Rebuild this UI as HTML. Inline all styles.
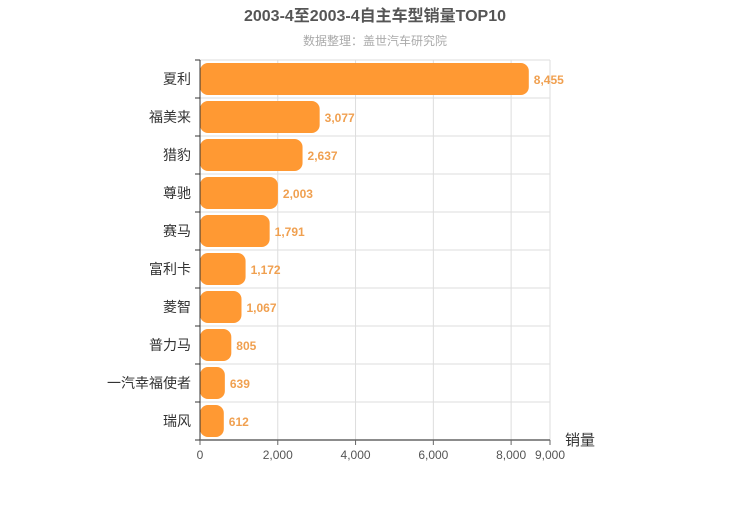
<!DOCTYPE html>
<html><head><meta charset="utf-8"><style>
body{margin:0;background:#fff;font-family:"Liberation Sans","Noto Sans CJK SC",sans-serif}
</style></head><body>
<svg id="c" width="750" height="500" xmlns="http://www.w3.org/2000/svg" font-family="Liberation Sans, Noto Sans CJK SC, sans-serif">
<text x="375" y="21" text-anchor="middle" font-size="16" font-weight="bold" fill="#555">2003-4至2003-4自主车型销量TOP10</text>
<text x="375" y="45" text-anchor="middle" font-size="12" fill="#aaa">数据整理：盖世汽车研究院</text>
<g id="grid"></g><g id="bars"></g><g id="axes"></g>
<text x="565" y="445" font-size="15" fill="#333">销量</text>
</svg>
<script>
const categories=["夏利","福美来","猎豹","尊驰","赛马","富利卡","菱智","普力马","一汽幸福使者","瑞风"];
const values=[8455,3077,2637,2003,1791,1172,1067,805,639,612];
const ticks=[0,2000,4000,6000,8000,9000];
const NS="http://www.w3.org/2000/svg";
const x0=200,x1=550,y0=60,y1=440,max=9000;
const xs=v=>x0+(x1-x0)*v/max;
const band=(y1-y0)/categories.length;
const ys=i=>y0+band*i;
function mk(p,tag,a){const e=document.createElementNS(NS,tag);for(const k in a)e.setAttribute(k,a[k]);document.getElementById(p).appendChild(e);return e;}
const fmt=v=>v.toLocaleString("en-US");
ticks.forEach(t=>{
const l=mk("grid","line",{x1:xs(t),x2:xs(t),y1:y0,y2:y1,stroke:"#ddd"});


const tk=mk("axes","line",{x1:xs(t),x2:xs(t),y1:y1,y2:y1+5,stroke:"#666"});


const tx=mk("axes","text",{x:xs(t),y:y1+19,"text-anchor":"middle","font-size":12,fill:"#555"});
tx.textContent=fmt(t);


});
for(let i=0;i<=categories.length;i++){
const l=mk("grid","line",{x1:x0,x2:x1,y1:ys(i),y2:ys(i),stroke:"#ddd"});


const tk=mk("axes","line",{x1:x0-5,x2:x0,y1:ys(i),y2:ys(i),stroke:"#333"});


}
categories.forEach((c,i)=>{
const w=xs(values[i])-x0;
const r=mk("bars","rect",{x:x0,y:ys(i)+3,width:w,height:band-6,rx:8,fill:"#ff9933"});


const v=mk("bars","text",{x:xs(values[i])+5,y:ys(i)+band/2+5,"font-size":12,"font-weight":"bold",fill:"#f0a050"});
v.textContent=fmt(values[i]);


const t=mk("axes","text",{x:x0-9,y:ys(i)+band/2+5,"text-anchor":"end","font-size":14,fill:"#333"});
t.textContent=c;


});
const ya=mk("axes","line",{x1:x0,x2:x0,y1:y0,y2:y1,stroke:"#333"});


const xa=mk("axes","line",{x1:x0,x2:x1,y1:y1,y2:y1,stroke:"#666","stroke-width":1.5});


</script>
</body></html>
